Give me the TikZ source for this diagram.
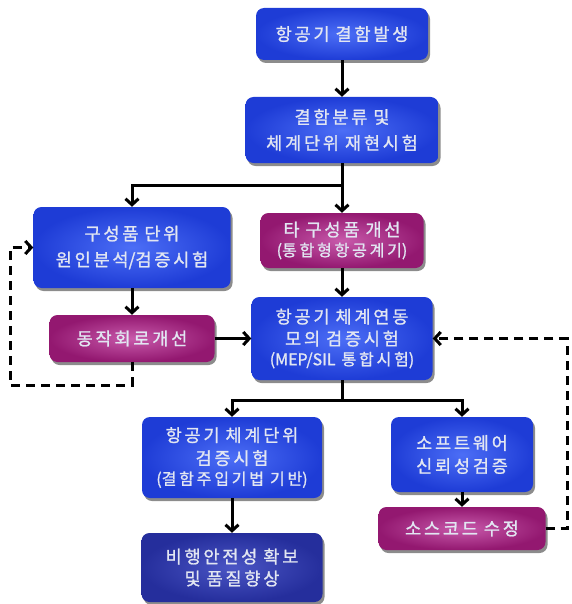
\documentclass[tikz,border=0pt]{standalone}
\usepackage{fontspec}
\newfontfamily\kr[FakeBold=1.2]{Noto Sans CJK KR}
\usetikzlibrary{arrows.meta,shadows}
\XeTeXinterchartokenstate=1
\newXeTeXintercharclass\hangulclass
\count255="AC00
\loop
  \XeTeXcharclass\count255=\hangulclass
  \ifnum\count255<"D7A3 \advance\count255 by 1
\repeat
\XeTeXinterchartoks\hangulclass\hangulclass={\kern2.8pt}
\newcommand{\w}{\hspace*{6pt}}
\definecolor{txt}{HTML}{E2E6F2}
\definecolor{bOut}{HTML}{1E3CD6}
\definecolor{bIn}{HTML}{4C6EF6}
\definecolor{mOut}{HTML}{931870}
\definecolor{mIn}{HTML}{C85AAB}
\definecolor{nOut}{HTML}{252E9C}
\definecolor{nIn}{HTML}{4A55C4}
\tikzset{
  box/.style={rounded corners=8pt, inner sep=0pt, align=center, text=txt,
    font=\kr\fontsize{17.5}{23}\selectfont,
    drop shadow={shadow xshift=2pt, shadow yshift=-3pt, opacity=0.45, fill=black}},
  bluebox/.style={box, inner color=bIn, outer color=bOut},
  magbox/.style={box, inner color=mIn, outer color=mOut},
  navybox/.style={box, inner color=nIn, outer color=nOut},
  conn/.style={line width=3pt, black},
  arr/.style={conn, -{Straight Barb[length=6pt,width=13pt]}},
  darr/.style={conn, dash pattern=on 9pt off 6pt, -{Straight Barb[length=6pt,width=13pt]}}
}
\newcommand{\smallline}[1]{{\fontsize{16}{20}\selectfont #1}}
\begin{document}
\begin{tikzpicture}[x=1pt,y=-1pt]
\useasboundingbox (0,0) rectangle (571,604);
\node[bluebox, minimum width=172pt, minimum height=52pt] (n1) at (342,34) {항공기\w 결함발생};
\node[bluebox, minimum width=193pt, minimum height=66pt] (n2) at (342,130) {결함분류\w 및\\[3pt]체계단위\w 재현시험};
\node[magbox, minimum width=163pt, minimum height=55pt] (n3) at (342,240.5) {타\w 구성품\w 개선\\[-3pt]\smallline{(통합형항공계기)}};
\node[bluebox, minimum width=197pt, minimum height=81pt] (n4) at (132,247.5) {구성품\w 단위\\[3pt]원인분석/검증시험};
\node[magbox, minimum width=165pt, minimum height=47pt] (n5) at (132,338.5) {동작회로개선};
\node[bluebox, minimum width=181pt, minimum height=83pt] (n6) at (342,338.5) {항공기\w 체계연동\\[-1pt]모의\w 검증시험\\[-3pt]\smallline{(MEP/SIL\w 통합시험)}};
\node[bluebox, minimum width=180pt, minimum height=81pt] (n7) at (232,457.5) {항공기\w 체계단위\\검증시험\\[-3pt]\smallline{(결함주입기법\w 기반)}};
\node[bluebox, minimum width=142pt, minimum height=75pt] (n8) at (462,454.5) {소프트웨어\\신뢰성검증};
\node[magbox, minimum width=167pt, minimum height=43pt] (n9) at (462,528.5) {소스코드\w 수정};
\node[navybox, minimum width=181pt, minimum height=69pt] (n10) at (232,567.5) {비행안전성\w 확보\\[-1pt]및\w 품질향상};
\coordinate (j1) at (342,185);
\coordinate (j2) at (342,400);
\coordinate (d1) at (10,385);
\coordinate (d2) at (567,338.5);
\draw[arr] (n1.south) -- (n2.north);
\draw[arr] (n2.south) -- (n3.north);
\draw[arr] (j1) -| (n4.north);
\draw[arr] (n4.south) -- (n5.north);
\draw[arr] (n3.south) -- (n6.north);
\draw[arr] (n5.east) -- (n6.west);
\draw[conn] (n6.south) -- (j2);
\draw[arr] (j2) -| (n7.north);
\draw[arr] (j2) -| (n8.north);
\draw[arr] (n7.south) -- (n10.north);
\draw[arr] (n8.south) -- (n9.north);
\draw[darr] (n5.south) |- (d1) |- (n4.west);
\draw[darr] (n9.east) -| (d2) -- (n6.east);
\end{tikzpicture}
\end{document}
